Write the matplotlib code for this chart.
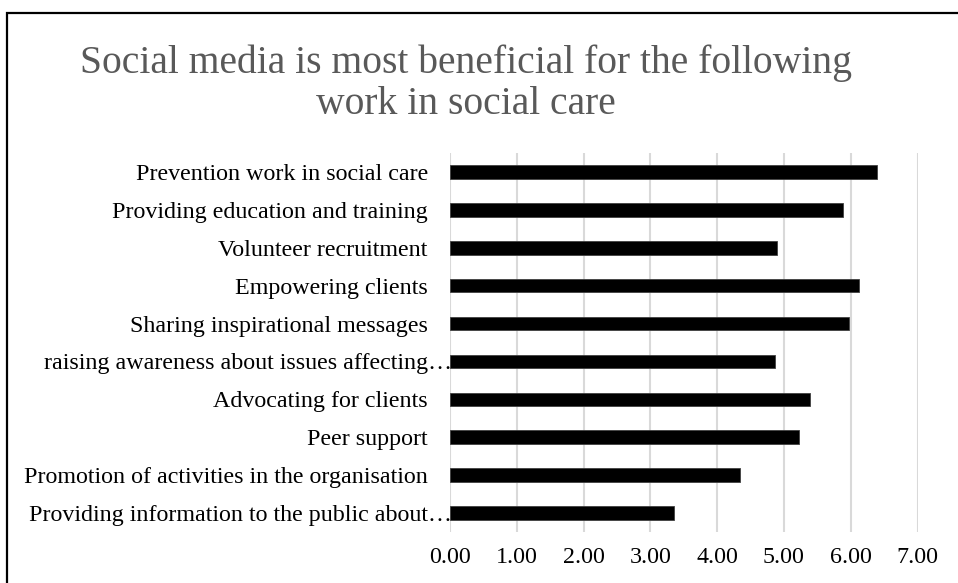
import matplotlib
matplotlib.use("Agg")
import matplotlib.pyplot as plt
from matplotlib.patches import Rectangle
from matplotlib.transforms import ScaledTranslation

categories = [
    "Prevention work in social care",
    "Providing education and training",
    "Volunteer recruitment",
    "Empowering clients",
    "Sharing inspirational messages",
    "raising awareness about issues affecting\u2026",
    "Advocating for clients",
    "Peer support",
    "Promotion of activities in the organisation",
    "Providing information to the public about\u2026",
]
scores = [6.39, 5.88, 4.90, 6.12, 5.98, 4.87, 5.39, 5.22, 4.34, 3.35]
x_ticks = [0, 1, 2, 3, 4, 5, 6, 7]
x_tick_labels = ["0.00", "1.00", "2.00", "3.00", "4.00", "5.00", "6.00", "7.00"]
title = "Social media is most beneficial for the following\nwork in social care"

plt.rcParams["font.family"] = ["Liberation Serif", "DejaVu Serif"]

W, H = 958, 583
fig = plt.figure(figsize=(W / 100, H / 100), dpi=100)
fig.patch.set_facecolor("white")

# chart frame (extends past the right and bottom edges)
fig.patches.append(Rectangle((7 / W, -0.1), 1.2, 1 - 13 / H + 0.1,
                             transform=fig.transFigure, fill=False,
                             edgecolor="black", linewidth=1.6))

ax = fig.add_axes([450 / W, 1 - 532 / H, (917.6 - 450) / W, (532 - 153) / H])
ypos = list(range(len(categories)))
ax.barh(ypos, scores, height=0.36, color="black", edgecolor="#404040",
        linewidth=0.6, zorder=3)
ax.set_ylim(len(categories) - 0.5, -0.5)
ax.set_xlim(0, 7)
ax.set_xticks(x_ticks)
ax.set_xticklabels(x_tick_labels)
ax.set_yticks(ypos)
ax.set_yticklabels(categories)

ax.grid(axis="x", color="#d9d9d9", linewidth=1.5, zorder=0)
ax.grid(axis="y", visible=False)
for s in ax.spines.values():
    s.set_visible(False)
ax.tick_params(axis="both", length=0, labelsize=17.3, labelcolor="black")
ax.tick_params(axis="y", pad=16)
ax.tick_params(axis="x", pad=11)

# truncated labels run up to the plot edge
for lab in ax.get_yticklabels():
    if lab.get_text().endswith("\u2026"):
        lab.set_transform(lab.get_transform() +
                          ScaledTranslation(24 / 100, 0, fig.dpi_scale_trans))

fig.text(466 / W, 1 - 84 / H, title, ha="center", va="center",
         fontsize=28.5, color="#595959", linespacing=1.15)

fig.savefig("out.png", dpi=100)
